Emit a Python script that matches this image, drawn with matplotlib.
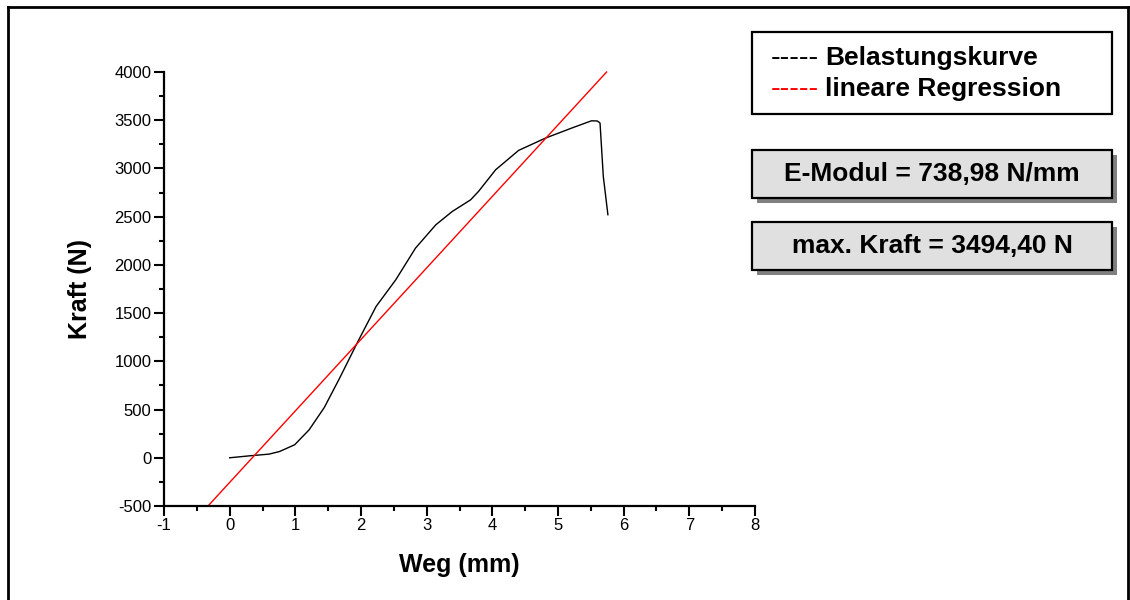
import matplotlib
matplotlib.use("Agg")
import matplotlib.pyplot as plt
from matplotlib.patches import Rectangle
from matplotlib.lines import Line2D
from matplotlib.ticker import MultipleLocator

plt.rcParams['font.family'] = ['Liberation Sans', 'DejaVu Sans']
plt.rcParams['axes.unicode_minus'] = False

# Data
weg = [0, 0.3, 0.6, 0.76, 0.99, 1.21, 1.44, 1.67, 1.96, 2.23, 2.53, 2.83, 3.14, 3.39,
       3.67, 3.79, 4.05, 4.40, 4.81, 5.21, 5.51, 5.60, 5.64, 5.69, 5.76]
kraft = [0, 20, 38, 65, 135, 290, 520, 820, 1215, 1569, 1846, 2174, 2416, 2554,
         2675, 2762, 2986, 3187, 3315, 3419, 3494, 3492, 3471, 2917, 2520]
reg_x = [-0.33, 5.74]
reg_y = [-500, 4000]

legend_labels = ["Belastungskurve", "lineare Regression"]
info_texts = ["E-Modul = 738,98 N/mm", "max. Kraft = 3494,40 N"]

W, H = 1130, 600
fig = plt.figure(figsize=(W / 100, H / 100), dpi=100)

def fx(px):
    return px / W

def fy(py):
    return 1 - py / H

ax = fig.add_axes([fx(164), fy(506), fx(755) - fx(164), fy(72) - fy(506)])
ax.plot(weg, kraft, color='black', lw=1.0)
ax.plot(reg_x, reg_y, color='red', lw=1.0, clip_on=False)
ax.set_xlim(-1, 8)
ax.set_ylim(-500, 4000)
ax.xaxis.set_major_locator(MultipleLocator(1))
ax.xaxis.set_minor_locator(MultipleLocator(0.5))
ax.yaxis.set_major_locator(MultipleLocator(500))
ax.yaxis.set_minor_locator(MultipleLocator(250))
for s in ['top', 'right']:
    ax.spines[s].set_visible(False)
for s in ['left', 'bottom']:
    ax.spines[s].set_linewidth(1.6)
ax.tick_params(which='major', direction='out', length=7, width=1.5, labelsize=12, pad=2)
ax.tick_params(which='minor', direction='out', length=3.5, width=1.5)
ax.set_xlabel("Weg (mm)", fontsize=18, fontweight='bold', labelpad=14)
ax.set_ylabel("Kraft (N)", fontsize=18, fontweight='bold', labelpad=16)

# outer frame
frame_kw = dict(color='black', lw=2, transform=fig.transFigure)
fig.add_artist(Line2D([fx(8), fx(8)], [fy(7), 0], **frame_kw))
fig.add_artist(Line2D([fx(8), fx(1128)], [fy(7), fy(7)], **frame_kw))
fig.add_artist(Line2D([fx(1128), fx(1128)], [fy(7), 0], **frame_kw))

# legend box
fig.add_artist(Rectangle((fx(752), fy(114)), fx(1112) - fx(752), fy(32) - fy(114),
                         transform=fig.transFigure, facecolor='white', edgecolor='black', lw=1.6))
leg_colors = ['black', 'red']
leg_y = [58, 89]
for lab, c, yy in zip(legend_labels, leg_colors, leg_y):
    fig.text(fx(771), fy(yy), "-----", color=c, fontsize=21, va='center', ha='left')
    fig.text(fx(825), fy(yy), lab, color='black', fontsize=19, fontweight='bold',
             va='center', ha='left')

# info boxes with shadow
boxes = [(150, 198), (222, 270)]
for (top, bot), txt in zip(boxes, info_texts):
    fig.add_artist(Rectangle((fx(757), fy(bot + 5)), fx(1112) - fx(752), fy(top) - fy(bot),
                             transform=fig.transFigure, facecolor='#808080', edgecolor='none'))
    fig.add_artist(Rectangle((fx(752), fy(bot)), fx(1112) - fx(752), fy(top) - fy(bot),
                             transform=fig.transFigure, facecolor='#e0e0e0', edgecolor='black', lw=1.6))
    fig.text(fx(932), fy((top + bot) / 2), txt, fontsize=19, fontweight='bold',
             ha='center', va='center')

fig.savefig("out.png", dpi=100)
